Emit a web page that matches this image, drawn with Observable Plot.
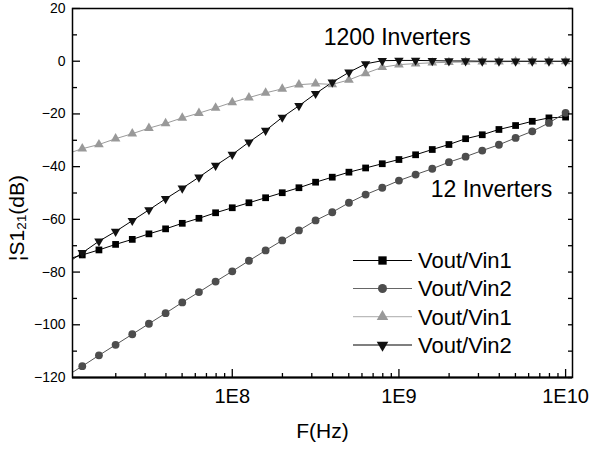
<!DOCTYPE html>
<html><head><meta charset="utf-8">
<script src="https://cdn.jsdelivr.net/npm/d3@7"></script>
<script src="https://cdn.jsdelivr.net/npm/@observablehq/plot@0.6"></script>
<style>
body{margin:0;background:#fff;}
#chart{position:relative;width:593px;height:452px;font-family:"Liberation Sans",Arial,sans-serif;}
#chart svg{position:absolute;left:0;top:0;}
</style></head><body><div id="chart"></div>
<script>
// Frequencies (Hz): first point lies just left of the visible range
const freq = [1e7, 1.259e7, 1.585e7, 1.995e7, 2.512e7, 3.162e7, 3.981e7, 5.012e7, 6.310e7, 7.943e7,
  1e8, 1.259e8, 1.585e8, 1.995e8, 2.512e8, 3.162e8, 3.981e8, 5.012e8, 6.310e8, 7.943e8,
  1e9, 1.259e9, 1.585e9, 1.995e9, 2.512e9, 3.162e9, 3.981e9, 5.012e9, 6.310e9, 7.943e9, 1e10];

// 12 Inverters
const inv12_vin1 = [-75.3, -73.5, -71.6, -69.5, -67.6, -65.5, -63.6, -61.5, -59.6, -57.5, -55.6,
  -53.7, -51.8, -49.9, -48.0, -45.9, -44.0, -42.1, -40.5, -38.9, -37.3,
  -35.5, -33.5, -31.6, -29.4, -27.9, -25.9, -24.4, -22.8, -21.5, -21.2];
const inv12_vin2 = [-119.7, -115.7, -111.6, -107.6, -103.6, -99.6, -95.6, -91.5, -87.6, -83.6, -79.7,
  -75.7, -71.8, -68.0, -64.2, -60.4, -57.3, -53.7, -50.6, -48.0, -45.3,
  -43.0, -40.8, -38.3, -36.2, -33.9, -31.7, -29.1, -26.6, -23.4, -19.6];
// 1200 Inverters
const inv1200_vin1 = [-35.3, -33.2, -31.6, -29.4, -27.5, -25.4, -23.6, -21.5, -19.7, -17.7, -15.6,
  -13.8, -12.0, -10.5, -8.9, -8.5, -8.8, -7.1, -4.6, -2.3, -1.3,
  -0.9, -0.6, -0.4, -0.3, -0.2, -0.2, -0.1, -0.1, -0.1, -0.1];
const inv1200_vin2 = [-77.0, -72.7, -68.3, -64.6, -60.5, -56.4, -52.2, -48.2, -44.0, -39.6, -35.4,
  -30.7, -26.3, -21.3, -16.9, -12.3, -8.0, -4.2, -1.0, 0.2, 0.3,
  0.3, 0.2, 0.1, 0.1, 0.0, 0.0, 0.0, 0.0, 0.0, 0.0];

const legendLabels = ["Vout/Vin1", "Vout/Vin2", "Vout/Vin1", "Vout/Vin2"];
const xTickValues = [1e8, 1e9, 1e10];
const xTickLabels = ["1E8", "1E9", "1E10"];
const xMinorTicks = [2e7,3e7,4e7,5e7,6e7,7e7,8e7,9e7, 2e8,3e8,4e8,5e8,6e8,7e8,8e8,9e8, 2e9,3e9,4e9,5e9,6e9,7e9,8e9,9e9];
const yTickValues = [20, 0, -20, -40, -60, -80, -100, -120];
const yMinorTicks = [10, -10, -30, -50, -70, -90, -110];
const annotations = [
  {label: "1200 Inverters", f: 9.76e8, v: 9.0},
  {label: "12 Inverters", f: 3.59e9, v: -48.9}
];

// custom downward triangle symbol
const triangleDown = {
  draw(ctx, size) {
    const y = Math.sqrt(size / (Math.sqrt(3) * 3));
    const x = Math.sqrt(3) * y;
    ctx.moveTo(0, 2 * y);
    ctx.lineTo(-x, -y);
    ctx.lineTo(x, -y);
    ctx.closePath();
  }
};

const seriesDefs = [
  {values: inv12_vin1, line: "#000", fill: "#000", symbol: "square", r: 3.8, lr: 4.7},
  {values: inv12_vin2, line: "#555", fill: "#4d4d4d", symbol: "circle", r: 3.9, lr: 4.5},
  {values: inv1200_vin1, line: "#9a9a9a", fill: "#999", symbol: "triangle", r: 3.6, lr: 4.3},
  {values: inv1200_vin2, line: "#000", fill: "#111", symbol: triangleDown, r: 3.5, lr: 4.3}
];
const legendLineColors = ["#000", "#666", "#bbb", "#000"];

const W = 593, H = 452, mL = 72, mR = 21, mT = 8, mB = 75;
const plotW = W - mL - mR, plotH = H - mT - mB;

const marks = [];
for (const s of seriesDefs) {
  const data = freq.map((f, i) => ({f, v: s.values[i]}));
  marks.push(Plot.line(data, {x: "f", y: "v", stroke: s.line, strokeWidth: 1, clip: true}));
}
for (const s of seriesDefs) {
  const data = freq.map((f, i) => ({f, v: s.values[i]}));
  marks.push(Plot.dot(data, {x: "f", y: "v", symbol: s.symbol, r: s.r, fill: s.fill, stroke: "none", clip: true}));
}

const plot = Plot.plot({
  width: W, height: H,
  marginLeft: mL, marginRight: mR, marginTop: mT, marginBottom: mB,
  style: {fontFamily: "Liberation Sans, Arial, sans-serif", background: "#fff", color: "#000"},
  x: {type: "log", domain: [1.1e7, 1.1e10], label: null},
  y: {domain: [-120, 20], label: null},
  marks: [
    ...marks,
    // inward ticks
    Plot.tickY(yTickValues, {insetRight: plotW - 8, stroke: "#000", strokeWidth: 1.3}),
    Plot.tickY(yMinorTicks, {insetRight: plotW - 5, stroke: "#000", strokeWidth: 1.3}),
    Plot.tickY([...yTickValues, ...yMinorTicks], {insetLeft: plotW - 4, stroke: "#000", strokeWidth: 1.3}),
    Plot.tickX(xTickValues, {insetTop: plotH - 8, stroke: "#000", strokeWidth: 1.3}),
    Plot.tickX(xMinorTicks, {insetTop: plotH - 4, stroke: "#000", strokeWidth: 1.3}),
    Plot.frame({stroke: "#000", strokeWidth: 1.5}),
    Plot.ruleY([-120], {stroke: "#000", strokeWidth: 2}),
    Plot.axisX({ticks: xTickValues, tickSize: 0, tickPadding: 11, fontSize: 20,
      tickFormat: d => xTickLabels[xTickValues.indexOf(d)], label: null}),
    Plot.axisY({ticks: yTickValues, tickSize: 0, tickPadding: 7, fontSize: 14, label: null}),
    Plot.text(["F(Hz)"], {frameAnchor: "bottom", dy: 46, lineAnchor: "top", fontSize: 21, fill: "#000"}),
    Plot.text(["¦S1₂₁(dB)"], {frameAnchor: "left", dx: -55, dy: 25, rotate: -90, fontSize: 21,
      textAnchor: "middle", lineAnchor: "middle", fill: "#000"}),
    Plot.text(annotations, {x: "f", y: "v", text: "label", fontSize: 23, textAnchor: "middle", lineAnchor: "middle", fill: "#000"})
  ]
});
document.getElementById("chart").appendChild(plot);

// Legend overlay
const leg = d3.select("#chart").append("svg").attr("width", W).attr("height", H)
  .style("pointer-events", "none");
const rowY = [260.5, 288.5, 316.7, 345];
seriesDefs.forEach((s, i) => {
  const g = leg.append("g").attr("transform", `translate(0,${rowY[i]})`);
  g.append("line").attr("x1", 353).attr("x2", 412).attr("y1", 0).attr("y2", 0)
    .attr("stroke", legendLineColors[i]).attr("stroke-width", 1.2);
  const sym = typeof s.symbol === "string"
    ? (s.symbol === "square" ? d3.symbolSquare : s.symbol === "circle" ? d3.symbolCircle : d3.symbolTriangle)
    : s.symbol;
  g.append("path").attr("transform", "translate(382.5,0)")
    .attr("d", d3.symbol(sym, Math.PI * s.lr * s.lr)()).attr("fill", s.fill);
  g.append("text").attr("x", 418).attr("y", 7.8).attr("font-size", 22)
    .attr("font-family", "Liberation Sans, Arial, sans-serif").attr("fill", "#000")
    .text(legendLabels[i]);
});
</script></body></html>
